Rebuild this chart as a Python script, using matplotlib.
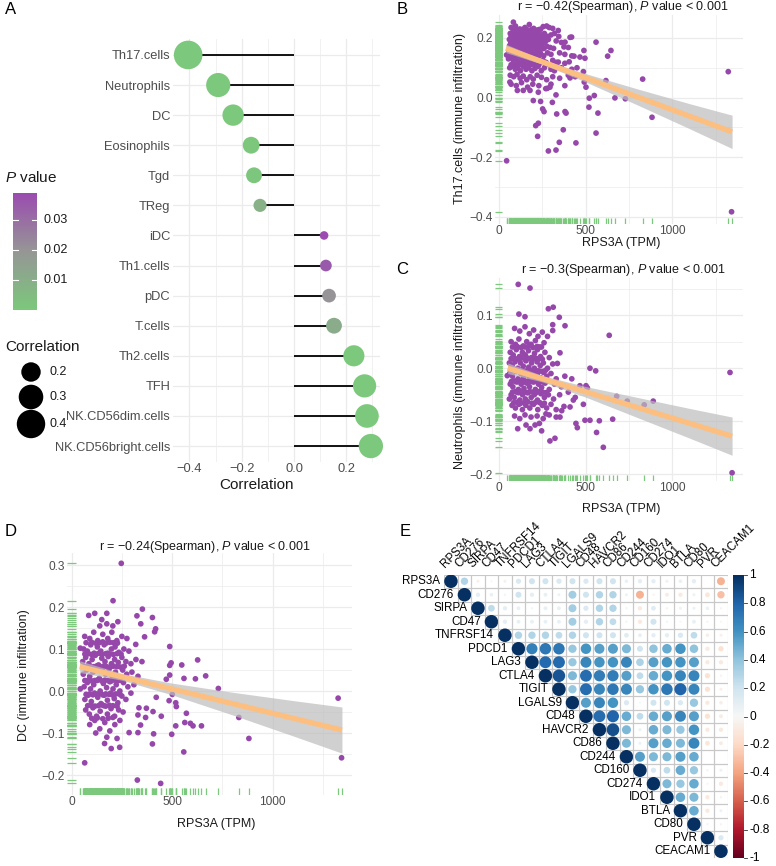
import numpy as np
import matplotlib
matplotlib.use("Agg")
import matplotlib.pyplot as plt
from matplotlib.colors import LinearSegmentedColormap, Normalize
from matplotlib.patches import Circle, Rectangle

plt.rcParams['font.family'] = ['Liberation Sans', 'DejaVu Sans']
plt.rcParams['mathtext.fontset'] = 'custom'
plt.rcParams['mathtext.rm'] = 'Liberation Sans'
plt.rcParams['mathtext.it'] = 'Liberation Sans:italic'

# ---------------- DATA ----------------
# Panel A
cells = ["Th17.cells", "Neutrophils", "DC", "Eosinophils", "Tgd", "TReg", "iDC",
         "Th1.cells", "pDC", "T.cells", "Th2.cells", "TFH", "NK.CD56dim.cells",
         "NK.CD56bright.cells"]
corr_A = [-0.405, -0.29, -0.233, -0.164, -0.153, -0.13, 0.115, 0.122, 0.134,
          0.153, 0.229, 0.27, 0.279, 0.294]
pval_A = [0.0, 0.0, 0.0, 0.0004, 0.0008, 0.009, 0.039, 0.035, 0.02, 0.011,
          0.0003, 0.0, 0.0, 0.0]
pticks_A = [0.01, 0.02, 0.03]
size_legend_A = [0.2, 0.3, 0.4]

# Panel B (Th17.cells)
B_x = [70, 95, 120, 150, 175, 200, 230, 255, 290, 310,
       65, 80, 100, 115, 130, 145, 160, 178, 195, 210, 228, 245, 262, 280, 300, 320, 345,
       60, 75, 88, 102, 118, 132, 148, 162, 176, 190, 205, 220, 236, 250, 268, 285, 330, 360,
       62, 78, 92, 108, 122, 138, 152, 168, 183, 198, 212, 228, 244, 260, 276, 295, 315, 375, 400,
       58, 72, 86, 100, 115, 130, 145, 160, 175, 190, 206, 222, 240, 258, 280, 300, 350, 380, 420,
       55, 68, 82, 96, 112, 126, 140, 156, 170, 186, 200, 218, 236, 254, 272, 290, 310, 330, 380, 405,
       62, 78, 94, 108, 124, 140, 156, 172, 190, 208, 226, 244, 262, 300, 320, 360, 420, 450,
       65, 85, 104, 122, 140, 160, 180, 198, 220, 245, 275, 310, 350, 400, 440,
       70, 100, 130, 165, 195, 230, 270, 300, 380,
       83, 275, 342, 560, 646, 627, 617, 829, 1323, 669, 729, 883, 521, 550, 519, 571,
       560, 490, 496, 467, 433, 419, 410, 381, 487, 492, 502, 410, 444, 371, 381, 387,
       333, 329, 308, 348, 329, 285, 227, 212, 223, 252, 260, 240, 198, 44, 1342, 294,
       279, 227, 179, 140, 106, 63, 44, 342,
       85, 108, 138, 165, 188, 215, 240,
       70, 92, 110, 125, 140, 155, 170, 185, 200, 218, 235, 255, 272,
       68, 84, 96, 110, 126, 140, 155, 170, 184, 198, 212, 228, 242, 258,
       66, 80, 94, 108, 122, 136, 150, 164, 178, 192, 208, 232, 250,
       62, 76, 92, 106, 120, 134, 150, 166, 182, 196, 214, 230,
       70, 86, 102, 118, 134, 148, 164, 180, 198, 214]
B_y = [0.235, 0.24, 0.23, 0.235, 0.245, 0.232, 0.228, 0.238, 0.235, 0.232,
       0.215, 0.22, 0.212, 0.225, 0.218, 0.21, 0.222, 0.215, 0.22, 0.212, 0.218, 0.21, 0.215, 0.205, 0.21, 0.215, 0.205,
       0.195, 0.2, 0.192, 0.198, 0.19, 0.2, 0.195, 0.19, 0.2, 0.193, 0.198, 0.19, 0.2, 0.192, 0.188, 0.195, 0.19, 0.185,
       0.175, 0.18, 0.172, 0.178, 0.17, 0.182, 0.175, 0.17, 0.178, 0.172, 0.18, 0.17, 0.176, 0.165, 0.172, 0.168, 0.165, 0.17, 0.168,
       0.155, 0.16, 0.15, 0.158, 0.152, 0.16, 0.148, 0.155, 0.15, 0.158, 0.145, 0.152, 0.148, 0.14, 0.15, 0.145, 0.15, 0.145, 0.14,
       0.13, 0.135, 0.125, 0.13, 0.12, 0.135, 0.125, 0.13, 0.118, 0.128, 0.12, 0.13, 0.115, 0.125, 0.118, 0.11, 0.125, 0.118, 0.115, 0.12,
       0.1, 0.105, 0.095, 0.1, 0.09, 0.105, 0.095, 0.1, 0.09, 0.098, 0.105, 0.09, 0.1, 0.095, 0.09, 0.1, 0.095, 0.1,
       0.075, 0.07, 0.078, 0.065, 0.072, 0.06, 0.07, 0.062, 0.075, 0.068, 0.06, 0.07, 0.065, 0.075, 0.07,
       0.045, 0.04, 0.05, 0.035, 0.045, 0.04, 0.03, 0.045, 0.04,
       0.253, 0.24, 0.225, 0.186, 0.158, 0.139, 0.057, 0.062, 0.087, -0.001, -0.004, -0.066, -0.002, 0.007, -0.032, -0.052,
       -0.119, 0.158, 0.132, 0.136, 0.139, 0.203, 0.202, 0.186, 0.087, 0.052, 0.035, 0.066, -0.152, -0.108, -0.047, -0.052,
       -0.055, 0.009, -0.016, -0.15, -0.176, -0.179, -0.086, -0.094, -0.13, -0.038, -0.047, -0.013, -0.01, -0.212, -0.383, 0.035,
       0.031, 0.018, 0.024, 0.024, 0.024, 0.052, 0.143, 0.119,
       0.228, 0.226, 0.229, 0.227, 0.228, 0.226, 0.229,
       0.205, 0.206, 0.204, 0.207, 0.205, 0.206, 0.204, 0.205, 0.207, 0.204, 0.206, 0.205, 0.204,
       0.185, 0.186, 0.184, 0.185, 0.187, 0.184, 0.186, 0.185, 0.184, 0.186, 0.185, 0.184, 0.186, 0.185,
       0.163, 0.164, 0.162, 0.163, 0.165, 0.162, 0.164, 0.163, 0.162, 0.164, 0.163, 0.162, 0.164,
       0.14, 0.141, 0.139, 0.14, 0.142, 0.139, 0.141, 0.14, 0.139, 0.141, 0.14, 0.139,
       0.11, 0.112, 0.109, 0.111, 0.11, 0.112, 0.109, 0.111, 0.11, 0.109]
B_fit_x = [40, 1345]
B_fit_y = [0.165, -0.115]
B_band_x = [40, 250, 500, 800, 1100, 1345]
B_band_hw = [0.014, 0.008, 0.014, 0.027, 0.042, 0.056]

# Panel C (Neutrophils)
C_x = [90, 120, 150, 175, 200, 225, 250, 280,
       70, 95, 115, 140, 160, 185, 210, 235, 260,
       65, 82, 100, 118, 135, 152, 170, 188, 205, 222, 240, 265, 290,
       60, 76, 92, 108, 124, 140, 156, 172, 188, 204, 220, 238, 256, 280, 310,
       62, 78, 94, 110, 126, 142, 158, 174, 190, 206, 222, 240, 258, 276, 300, 330, 380, 420,
       65, 80, 96, 112, 128, 144, 160, 176, 192, 210, 228, 246, 266, 290, 320, 360,
       70, 88, 104, 120, 136, 152, 168, 186, 204, 222, 242, 262, 285, 315, 350, 400,
       75, 95, 115, 135, 155, 178, 200, 224, 250, 275, 300, 330, 375,
       90, 120, 150, 185, 220, 255, 290, 330,
       313, 285, 348, 381, 310, 115, 150, 636, 1333, 1345, 111, 179,
       525, 558, 679, 740, 838, 890, 602, 563, 656, 579, 525, 496, 502, 510, 467,
       444, 452, 410, 429, 440, 487, 352, 337, 310, 294, 323, 246, 233, 208, 179,
       156, 108, 352, 362, 271, 48, 60,
       78, 105, 128, 150, 172, 196, 220, 245,
       70, 88, 104, 120, 136, 150, 166, 182, 196, 212, 230, 250,
       68, 84, 100, 116, 132, 148, 164, 180, 196, 212, 230, 248, 268,
       72, 88, 104, 120, 136, 152, 168, 184, 200, 218, 236, 256, 278,
       78, 96, 112, 128, 144, 162, 178, 196, 214, 232, 252, 272,
       85, 105, 125, 145, 165, 190, 212, 236, 262]
C_y = [0.075, 0.07, 0.078, 0.065, 0.072, 0.06, 0.068, 0.06,
       0.05, 0.045, 0.055, 0.042, 0.05, 0.045, 0.052, 0.04, 0.048,
       0.03, 0.025, 0.035, 0.022, 0.03, 0.025, 0.033, 0.02, 0.028, 0.035, 0.022, 0.03, 0.02,
       0.01, 0.005, 0.012, 0.0, 0.01, 0.004, 0.014, 0.002, 0.01, 0.0, 0.012, 0.005, 0.01, 0.0, 0.008,
       -0.01, -0.015, -0.005, -0.02, -0.01, -0.018, -0.008, -0.015, -0.005, -0.02, -0.01, -0.018, -0.008, -0.015, -0.01, -0.02, -0.015, -0.02,
       -0.03, -0.035, -0.025, -0.04, -0.03, -0.038, -0.028, -0.035, -0.025, -0.04, -0.03, -0.036, -0.028, -0.04, -0.03, -0.035,
       -0.05, -0.055, -0.045, -0.06, -0.05, -0.058, -0.046, -0.055, -0.05, -0.06, -0.048, -0.055, -0.05, -0.058, -0.05, -0.045,
       -0.07, -0.075, -0.068, -0.078, -0.07, -0.075, -0.068, -0.078, -0.07, -0.075, -0.068, -0.078, -0.072,
       -0.09, -0.095, -0.088, -0.092, -0.09, -0.095, -0.088, -0.092,
       0.115, 0.112, 0.096, 0.08, 0.082, 0.102, 0.097, 0.062, -0.008, -0.197, 0.158, 0.151,
       0.0, -0.005, -0.053, -0.062, -0.069, -0.062, -0.149, -0.121, -0.096, -0.099, -0.098, -0.098, -0.033, -0.037, -0.033,
       -0.104, -0.112, -0.073, -0.06, -0.055, -0.068, 0.029, 0.009, 0.071, -0.137, -0.132, -0.118, -0.104, -0.107, -0.114,
       -0.107, -0.114, -0.092, -0.08, -0.086, -0.014, -0.058,
       0.04, 0.041, 0.039, 0.04, 0.042, 0.039, 0.041, 0.04,
       0.018, 0.019, 0.017, 0.018, 0.02, 0.017, 0.019, 0.018, 0.017, 0.019, 0.018, 0.017,
       -0.005, -0.004, -0.006, -0.005, -0.003, -0.006, -0.004, -0.005, -0.006, -0.004, -0.005, -0.006, -0.004,
       -0.025, -0.024, -0.026, -0.025, -0.023, -0.026, -0.024, -0.025, -0.026, -0.024, -0.025, -0.026, -0.024,
       -0.045, -0.044, -0.046, -0.045, -0.043, -0.046, -0.044, -0.045, -0.046, -0.044, -0.045, -0.046,
       -0.065, -0.064, -0.066, -0.065, -0.063, -0.066, -0.064, -0.065, -0.066]
C_fit_x = [50, 1345]
C_fit_y = [0.0, -0.128]
C_band_x = [50, 250, 500, 800, 1100, 1345]
C_band_hw = [0.010, 0.006, 0.010, 0.019, 0.028, 0.036]

# Panel D (DC)
D_x = [85, 115, 150, 175, 205, 230, 175, 140,
       65, 90, 110, 130, 155, 180, 200, 225, 250, 275,
       60, 78, 95, 112, 128, 145, 162, 180, 198, 216, 235, 260, 285,
       55, 70, 86, 102, 118, 134, 150, 166, 182, 198, 214, 232, 250, 270, 295, 320, 350,
       58, 74, 90, 106, 122, 138, 154, 170, 186, 202, 218, 236, 254, 274, 300, 330,
       62, 78, 94, 110, 126, 142, 158, 174, 190, 206, 222, 240, 258, 280, 310,
       66, 82, 98, 114, 130, 146, 162, 178, 194, 212, 230, 250, 270, 295,
       70, 88, 106, 124, 142, 160, 178, 196, 214, 234, 256,
       90, 115, 140, 165, 190, 215, 240, 120, 175,
       247, 206, 352, 402, 325, 344, 418, 413, 363, 319, 488, 627, 667, 730, 1326, 832,
       882, 1343, 558, 548, 495, 488, 559, 616, 488, 471, 501, 485, 518, 521, 571, 591,
       646, 518, 498, 446, 405, 421, 372, 368, 335, 330, 343, 286, 330, 408, 402, 239,
       197, 164, 226, 65, 327, 443, 43, 43, 563, 604,
       72, 100, 120, 138, 155, 172, 190, 208, 228,
       66, 84, 100, 118, 136, 152, 170, 190, 208, 226, 246,
       62, 78, 94, 110, 126, 142, 158, 174, 192, 208, 226, 244, 262,
       66, 84, 100, 116, 132, 150, 166, 182, 198, 216, 234, 252,
       72, 90, 106, 122, 138, 154, 170, 186, 202, 220, 240,
       80, 98, 116, 134, 152, 170, 188, 206, 226,
       100, 128, 155, 182, 205]
D_y = [0.18, 0.185, 0.17, 0.16, 0.155, 0.165, 0.185, 0.155,
       0.13, 0.125, 0.14, 0.12, 0.135, 0.125, 0.14, 0.12, 0.13, 0.125,
       0.1, 0.095, 0.11, 0.09, 0.105, 0.095, 0.11, 0.09, 0.1, 0.105, 0.092, 0.1, 0.095,
       0.07, 0.08, 0.065, 0.075, 0.085, 0.062, 0.078, 0.07, 0.082, 0.065, 0.075, 0.068, 0.08, 0.07, 0.065, 0.075, 0.07,
       0.04, 0.05, 0.035, 0.045, 0.055, 0.03, 0.048, 0.04, 0.052, 0.035, 0.045, 0.03, 0.05, 0.04, 0.045, 0.035,
       0.01, 0.02, 0.005, 0.015, 0.025, 0.0, 0.018, 0.008, 0.022, 0.005, 0.015, 0.0, 0.02, 0.01, 0.015,
       -0.02, -0.01, -0.025, -0.005, -0.015, -0.03, -0.01, -0.022, -0.005, -0.018, -0.028, -0.012, -0.02, -0.005,
       -0.045, -0.055, -0.04, -0.06, -0.048, -0.035, -0.055, -0.042, -0.06, -0.045, -0.05,
       -0.08, -0.07, -0.09, -0.075, -0.095, -0.08, -0.07, -0.1, -0.11,
       0.304, 0.215, 0.195, 0.175, 0.179, 0.16, 0.148, 0.141, 0.129, 0.111, 0.106, 0.074, 0.036, 0.006, -0.017, -0.063,
       -0.113, -0.159, -0.145, 0.062, 0.067, 0.061, 0.03, 0.029, 0.038, 0.028, -0.008, -0.023, -0.028, -0.037, -0.053, -0.077,
       -0.083, -0.083, -0.103, -0.06, -0.049, -0.015, -0.041, -0.063, -0.04, -0.057, -0.081, -0.099, -0.099, -0.102, -0.126, -0.134,
       -0.137, -0.125, -0.113, -0.171, -0.212, -0.22, 0.102, 0.005, -0.075, -0.083,
       0.115, 0.116, 0.114, 0.115, 0.117, 0.114, 0.116, 0.115, 0.114,
       0.088, 0.089, 0.087, 0.088, 0.09, 0.087, 0.089, 0.088, 0.087, 0.089, 0.088,
       0.058, 0.059, 0.057, 0.058, 0.06, 0.057, 0.059, 0.058, 0.057, 0.059, 0.058, 0.057, 0.059,
       0.025, 0.026, 0.024, 0.025, 0.027, 0.024, 0.026, 0.025, 0.024, 0.026, 0.025, 0.024,
       -0.008, -0.007, -0.009, -0.008, -0.006, -0.009, -0.007, -0.008, -0.009, -0.007, -0.008,
       -0.035, -0.034, -0.036, -0.035, -0.033, -0.036, -0.034, -0.035, -0.036,
       -0.065, -0.064, -0.066, -0.065, -0.063]
D_fit_x = [40, 1345]
D_fit_y = [0.058, -0.093]
D_band_x = [40, 250, 500, 800, 1100, 1345]
D_band_hw = [0.014, 0.008, 0.014, 0.027, 0.042, 0.055]

# Panel E (correlation matrix, upper triangle rows, diagonal excluded)
genes = ["RPS3A", "CD276", "SIRPA", "CD47", "TNFRSF14", "PDCD1", "LAG3", "CTLA4",
         "TIGIT", "LGALS9", "CD48", "HAVCR2", "CD86", "CD244", "CD160", "CD274",
         "IDO1", "BTLA", "CD80", "PVR", "CEACAM1"]
corr_upper = [
    [0.3, -0.05, 0.02, -0.05, 0.15, 0.2, 0.2, 0.15, 0.2, 0.15, 0.2, 0.2, 0.07, 0.1, 0.1, 0.05, 0.07, 0.1, 0.0, -0.35],
    [0.1, 0.07, 0.03, 0.2, 0.1, 0.08, 0.05, 0.35, 0.2, 0.3, 0.3, 0.05, -0.35, -0.03, -0.08, -0.1, 0.05, -0.12, -0.3],
    [0.25, 0.1, 0.08, 0.03, 0.08, 0.08, 0.35, 0.15, 0.3, 0.3, 0.03, -0.1, 0.12, -0.03, 0.05, 0.05, 0.07, -0.03],
    [0.1, 0.08, 0.08, 0.08, 0.08, 0.35, 0.1, 0.3, 0.25, 0.03, -0.1, 0.2, 0.03, 0.02, 0.08, -0.03, -0.02],
    [0.3, 0.3, 0.3, 0.25, 0.3, 0.2, 0.2, 0.2, 0.12, 0.08, 0.1, 0.1, 0.15, 0.25, -0.07, -0.05],
    [0.68, 0.72, 0.72, 0.38, 0.6, 0.55, 0.55, 0.45, 0.2, 0.4, 0.5, 0.6, 0.4, -0.1, -0.15],
    [0.78, 0.78, 0.38, 0.66, 0.6, 0.6, 0.66, 0.32, 0.55, 0.6, 0.6, 0.55, -0.1, -0.1],
    [0.86, 0.45, 0.77, 0.7, 0.7, 0.55, 0.25, 0.5, 0.6, 0.66, 0.66, -0.15, -0.03],
    [0.38, 0.77, 0.66, 0.72, 0.66, 0.38, 0.6, 0.72, 0.8, 0.66, -0.15, -0.05],
    [0.55, 0.66, 0.6, 0.15, 0.02, 0.2, 0.2, 0.15, 0.38, -0.1, -0.07],
    [0.77, 0.8, 0.5, 0.25, 0.5, 0.55, 0.66, 0.55, -0.15, -0.08],
    [0.88, 0.45, 0.05, 0.5, 0.45, 0.38, 0.6, -0.1, -0.1],
    [0.45, 0.05, 0.55, 0.5, 0.45, 0.66, -0.12, -0.08],
    [0.55, 0.45, 0.45, 0.55, 0.5, 0.0, 0.0],
    [0.15, 0.25, 0.5, 0.38, -0.03, 0.05],
    [0.45, 0.38, 0.5, -0.02, -0.1],
    [0.5, 0.45, -0.1, -0.03],
    [0.5, -0.1, 0.05],
    [-0.03, -0.03],
    [0.15],
    [],
]
cbar_ticks_E = [1, 0.8, 0.6, 0.4, 0.2, 0, -0.2, -0.4, -0.6, -0.8, -1]

# ---------------- FIGURE ----------------
W, H = 776, 866
fig = plt.figure(figsize=(W / 100, H / 100), dpi=100)


def ax_px(l, t, r, b, **kw):
    return fig.add_axes([l / W, 1 - b / H, (r - l) / W, (b - t) / H], **kw)


over = fig.add_axes([0, 0, 1, 1], zorder=10)
over.set_xlim(0, W)
over.set_ylim(H, 0)
over.axis('off')
over.patch.set_alpha(0)


def T(x, y, s, **kw):
    kw.setdefault('ha', 'center')
    kw.setdefault('va', 'center')
    over.text(x, y, s, **kw)


GRID = '#EBEBEB'
TICKC = '#4D4D4D'
GREEN = '#7CC87C'
PURPLE = '#9647AA'
TXT = '#1A1A1A'

# ---- Panel A ----
pcmap = LinearSegmentedColormap.from_list('pv', ['#7CC87C', '#969696', '#9B4BB0'])
pmax = max(pval_A)
pnorm = Normalize(0, pmax)
vmin_a, vmax_a = min(abs(v) for v in corr_A), max(abs(v) for v in corr_A)


def rad_px(v):
    return 4.3 + 10.0 * np.sqrt(max(0.0, (abs(v) - vmin_a) / (vmax_a - vmin_a)))


def s_from_r(r):
    return (2 * r * 0.72) ** 2


axA = ax_px(173, 39, 380, 462)
n = len(cells)
yA = np.arange(n)
axA.set_xlim(-0.463, 0.329)
axA.set_ylim(n - 1 + 0.53, -0.53)
for sp in axA.spines.values():
    sp.set_visible(False)
axA.set_xticks([-0.4, -0.2, 0.0, 0.2])
axA.set_xticklabels(['\u22120.4', '\u22120.2', '0.0', '0.2'])
axA.set_xticks([-0.3, -0.1, 0.1, 0.3], minor=True)
axA.set_yticks(yA)
axA.set_yticklabels(cells)
axA.tick_params(axis='both', which='both', length=0, colors=TICKC, labelsize=9.3)
axA.tick_params(axis='y', pad=2)
axA.tick_params(axis='x', pad=0.5, labelsize=9.3)
axA.grid(True, which='major', color=GRID, lw=0.9)
axA.grid(True, which='minor', axis='x', color=GRID, lw=0.5)
axA.set_axisbelow(True)
axA.hlines(yA, 0, corr_A, color='black', lw=1.3, zorder=2)
axA.scatter(corr_A, yA, s=[s_from_r(rad_px(v)) for v in corr_A],
            c=pcmap(pnorm(np.array(pval_A))), edgecolors='none', zorder=3, clip_on=False)
T(257, 485, 'Correlation', fontsize=11, color=TXT)

# P value colorbar
axP = ax_px(13, 193, 37, 310)
grad = np.linspace(pmax, 0, 200).reshape(-1, 1)
axP.imshow(grad, cmap=pcmap, norm=pnorm, aspect='auto', extent=[0, 1, 0, pmax])
axP.set_xlim(0, 1)
axP.set_ylim(0, pmax)
axP.axis('off')
for v in pticks_A:
    axP.plot([0, 0.2], [v, v], color='white', lw=0.8)
    axP.plot([0.8, 1], [v, v], color='white', lw=0.8)
    T(44, 310 - 117 * v / pmax, f'{v:.2f}', ha='left', fontsize=9, color=TXT)
T(5, 178, '$\\mathit{P}$ value', ha='left', fontsize=11, color=TXT)

# size legend
T(5, 347, 'Correlation', ha='left', fontsize=11, color=TXT)
leg_y = [372, 397, 424]
for v, yy in zip(size_legend_A, leg_y):
    over.scatter([31], [yy], s=s_from_r(rad_px(v)), color='black', edgecolors='none')
    T(50, yy, f'{v:.1f}', ha='left', fontsize=9, color=TXT)

# ---- scatter panels ----


def scatter_panel(ax, xs, ys, fx, fy, bx, bhw, xlim, ylim, yt, ytl, ymin):
    ax.set_xlim(*xlim)
    ax.set_ylim(*ylim)
    for sp in ax.spines.values():
        sp.set_visible(False)
    ax.set_xticks([0, 500, 1000])
    ax.set_xticklabels(['0', '500', '1000'])
    ax.set_xticks([250, 750, 1250], minor=True)
    ax.set_yticks(yt)
    ax.set_yticklabels(ytl)
    ax.set_yticks(ymin, minor=True)
    ax.tick_params(axis='both', which='both', length=0, colors=TICKC, labelsize=8.6, pad=1.5)
    ax.tick_params(axis='x', pad=0.5)
    ax.grid(True, which='major', color=GRID, lw=0.9)
    ax.grid(True, which='minor', color=GRID, lw=0.5)
    ax.set_axisbelow(True)
    ax.scatter(xs, ys, s=17, color=PURPLE, edgecolors='none', zorder=2)
    slope = (fy[1] - fy[0]) / (fx[1] - fx[0])
    bx = np.array(bx, float)
    by = fy[0] + slope * (bx - fx[0])
    ax.fill_between(bx, by - np.array(bhw), by + np.array(bhw), color='#BDBDBD', alpha=0.7,
                    lw=0, zorder=3)
    ax.plot(fx, fy, color='#FDBF80', lw=3.8, zorder=4, solid_capstyle='butt')
    ax.vlines(xs, 0, 0.03, transform=ax.get_xaxis_transform(), color=GREEN, lw=0.9, zorder=1)
    ax.hlines(ys, 0, 0.03, transform=ax.get_yaxis_transform(), color=GREEN, lw=0.9, zorder=1)


M = '\u2212'
axB = ax_px(495, 15, 743, 224)
scatter_panel(axB, B_x, B_y, B_fit_x, B_fit_y, B_band_x, B_band_hw, (-23, 1408), (-0.424, 0.277),
              [-0.4, -0.2, 0.0, 0.2], [M + '0.4', M + '0.2', '0.0', '0.2'], [-0.3, -0.1, 0.1])
T(623, 7, 'r = \u22120.42(Spearman), $\\mathit{P}$ value < 0.001', fontsize=9, color=TXT)
T(460, 119, 'Th17.cells (immune infiltration)', rotation=90, fontsize=9, color=TXT)
T(621, 243, 'RPS3A (TPM)', fontsize=9, color=TXT)

axC = ax_px(495, 278, 743, 481)
scatter_panel(axC, C_x, C_y, C_fit_x, C_fit_y, C_band_x, C_band_hw, (-23, 1408), (-0.2125, 0.17),
              [-0.2, -0.1, 0.0, 0.1], [M + '0.2', M + '0.1', '0.0', '0.1'], [-0.15, -0.05, 0.05, 0.15])
T(623, 270, 'r = \u22120.3(Spearman), $\\mathit{P}$ value < 0.001', fontsize=9, color=TXT)
T(460, 380, 'Neutrophils (immune infiltration)', rotation=90, fontsize=9, color=TXT)
T(621, 509, 'RPS3A (TPM)', fontsize=9, color=TXT)

axD = ax_px(67, 553, 352, 795)
scatter_panel(axD, D_x, D_y, D_fit_x, D_fit_y, D_band_x, D_band_hw, (-23, 1395), (-0.2476, 0.3286),
              [-0.2, -0.1, 0.0, 0.1, 0.2, 0.3], [M + '0.2', M + '0.1', '0.0', '0.1', '0.2', '0.3'],
              [-0.15, -0.05, 0.05, 0.15, 0.25])
T(205, 547, 'r = \u22120.24(Spearman), $\\mathit{P}$ value < 0.001', fontsize=9, color=TXT)
T(24, 675, 'DC (immune infiltration)', rotation=90, fontsize=9, color=TXT)
T(216, 824, 'RPS3A (TPM)', fontsize=9, color=TXT)

# ---- Panel E ----
ng = len(genes)
axE = ax_px(444.2, 574.5, 727.7, 858)
axE.set_xlim(0, ng)
axE.set_ylim(ng, 0)
axE.axis('off')
cm = plt.get_cmap('RdBu')
cn = Normalize(-1, 1)
for i in range(ng):
    row = [1.0] + corr_upper[i]
    for k, v in enumerate(row):
        j = i + k
        axE.add_patch(Rectangle((j, i), 1, 1, fill=False, edgecolor='#C8C8C8', lw=0.8))
        if abs(v) > 0:
            axE.add_patch(Circle((j + 0.5, i + 0.5), 0.5 * np.sqrt(abs(v)),
                                 facecolor=cm(cn(v)), edgecolor='none'))
    axE.text(i - 0.3, i + 0.5, genes[i], ha='right', va='center', fontsize=8.4, color='black')
    axE.text(i + 0.25, -0.3, genes[i], ha='left', va='bottom', rotation=45,
             rotation_mode='anchor', fontsize=8.4, color='black')

axCB = ax_px(733, 575, 744, 858)
cb = np.linspace(1, -1, 300).reshape(-1, 1)
axCB.imshow(cb, cmap=cm, norm=cn, aspect='auto', extent=[0, 1, -1, 1])
axCB.set_xlim(0, 1)
axCB.set_ylim(-1, 1)
axCB.axis('off')
for v in cbar_ticks_E:
    axCB.plot([1.0, 1.3], [v, v], color='#333333', lw=0.6, clip_on=False)
    axCB.text(1.5, v, '%g' % v, ha='left', va='center', fontsize=8.6, color='black',
              transform=axCB.transData, clip_on=False)

# panel letters
T(11, 9, 'A', fontsize=12)
T(402, 10, 'B', fontsize=12)
T(402, 270, 'C', fontsize=12)
T(11, 532, 'D', fontsize=12)
T(405, 532, 'E', fontsize=12)

fig.savefig('out.png', dpi=100)
